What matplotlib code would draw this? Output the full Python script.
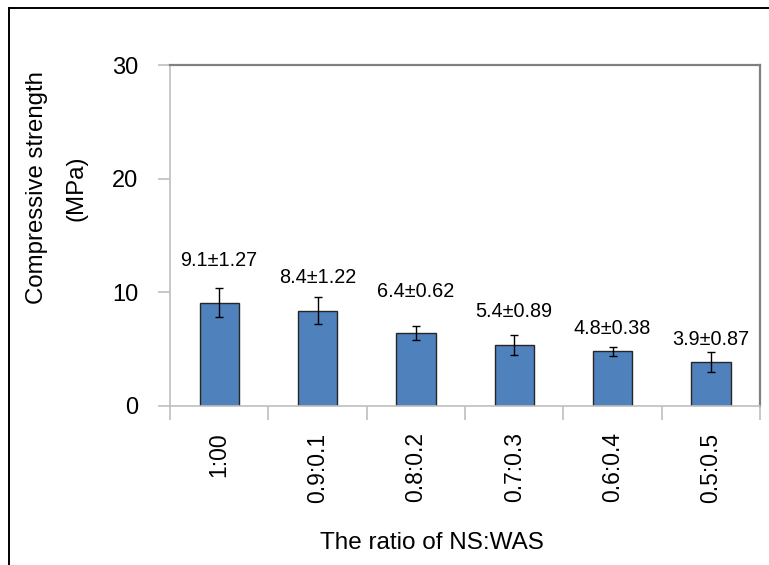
import matplotlib
matplotlib.use("Agg")
import matplotlib.pyplot as plt
import numpy as np

plt.rcParams['font.family'] = ['Liberation Sans', 'DejaVu Sans']

# Compressive strength for each NS:WAS mix
ratios = ['1:00', '0.9:0.1', '0.8:0.2', '0.7:0.3', '0.6:0.4', '0.5:0.5']
strength = [9.1, 8.4, 6.4, 5.4, 4.8, 3.9]
std_dev = [1.27, 1.22, 0.62, 0.89, 0.38, 0.87]

# how far each value label sits above its error bar (pixels)
label_pad = [22, 14, 29, 18, 13, 7]

W, H = 769, 565
fig = plt.figure(figsize=(W / 100, H / 100), dpi=100)
ax = fig.add_axes([170 / W, 1 - 406 / H, 590 / W, 341 / H])

x = np.arange(len(ratios))
ax.bar(x, strength, width=0.4, color='#4f81bd', edgecolor='#262626', linewidth=1.0, zorder=2)
ax.errorbar(x, strength, yerr=std_dev, fmt='none', ecolor='black', elinewidth=1.0,
            capsize=3, capthick=1.0, zorder=3)

for xi, v, e, p in zip(x, strength, std_dev, label_pad):
    ax.annotate(f'{v}\u00b1{e}', xy=(xi, v + e), xytext=(0, p), textcoords='offset pixels',
                ha='center', va='baseline', fontsize=14.3)

ax.set_xlim(-0.5, len(ratios) - 0.5)
ax.set_ylim(0, 30)
ax.set_yticks([0, 10, 20, 30])

# category labels at the bar centres, tick marks at the category boundaries
ax.set_xticks(x)
ax.set_xticklabels(ratios, rotation=90)
ax.set_xticks(np.arange(len(ratios) + 1) - 0.5, minor=True)
ax.tick_params(axis='x', which='major', length=0, pad=19, labelsize=16.5)
ax.tick_params(axis='x', which='minor', length=10, width=1.2, color='#bfbfbf', direction='out')
ax.tick_params(axis='y', length=9, width=1.2, color='#bfbfbf', direction='out', pad=14, labelsize=17)

for side in ['top', 'right']:
    ax.spines[side].set_color('#808080')
    ax.spines[side].set_linewidth(1.6)
for side in ['left', 'bottom']:
    ax.spines[side].set_color('#bfbfbf')
    ax.spines[side].set_linewidth(1.2)

fig.text(57 / W, 1 - 188 / H, 'Compressive strength\n(MPa)', rotation=90, ha='center',
         va='center', multialignment='center', fontsize=17.3, linespacing=2.05)
fig.text(432 / W, 1 - 549 / H, 'The ratio of NS:WAS', ha='center', va='baseline', fontsize=17.5)

# outer frame of the chart area
fig.add_artist(plt.Line2D([9 / W, 9 / W], [0, 1 - 8 / H], color='black', linewidth=1.4))
fig.add_artist(plt.Line2D([9 / W, 1], [1 - 8 / H, 1 - 8 / H], color='black', linewidth=1.4))

fig.savefig('out.png', dpi=100)
